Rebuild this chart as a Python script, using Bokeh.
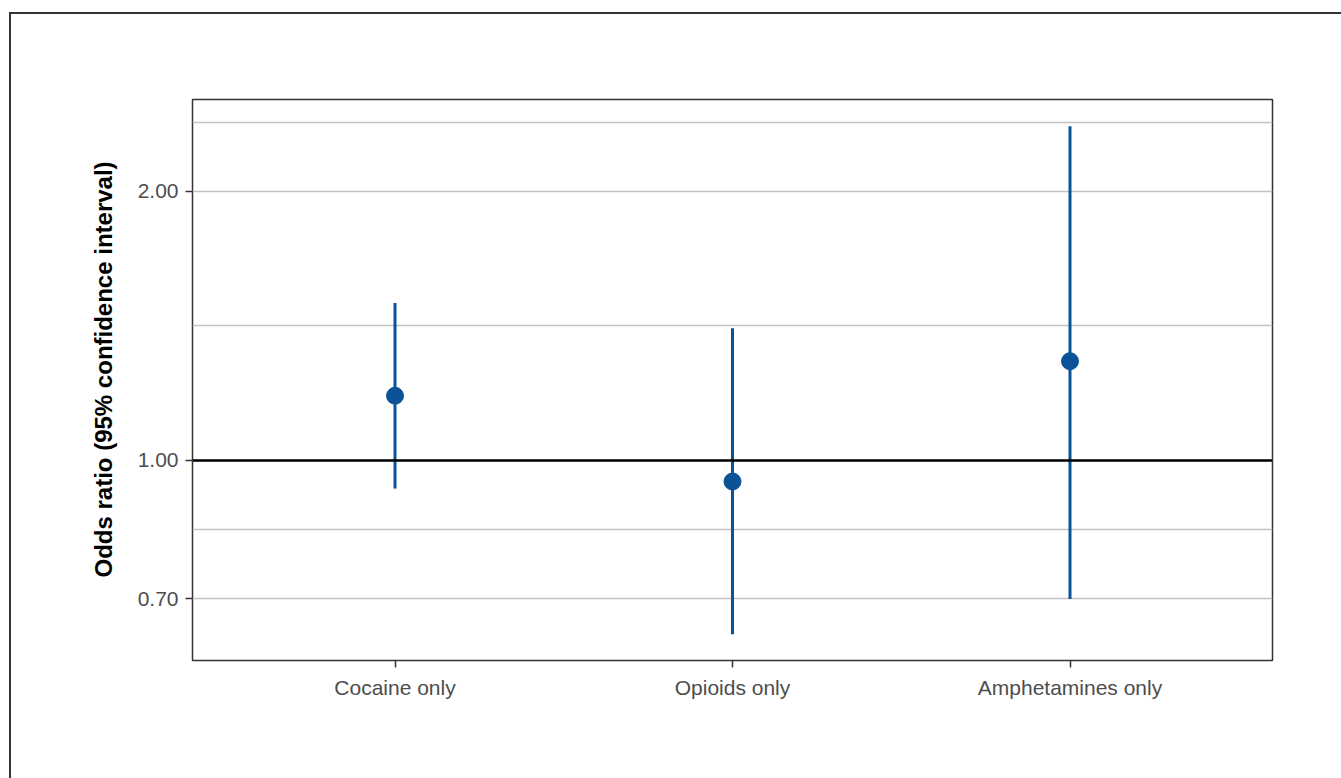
from bokeh.plotting import figure
from bokeh.models import (FactorRange, Range1d, FixedTicker, NumeralTickFormatter,
                          Span, ColumnDataSource, InlineStyleSheet, Title)
from bokeh.embed import file_html
from bokeh.resources import INLINE

# ---- data ----
categories = ["Cocaine only", "Opioids only", "Amphetamines only"]
odds_ratio = [1.181, 0.947, 1.291]
ci_lower = [0.930, 0.639, 0.700]
ci_upper = [1.500, 1.405, 2.365]
y_ticks = [0.70, 1.00, 2.00]
y_minor_grid = [0.837, 1.414, 2.390]
y_limits = (0.5973, 2.533)
y_title = "Odds ratio  (95% confidence interval)"

BLUE = "#0b5296"
FONT = "Liberation Sans"

src = ColumnDataSource(dict(cat=categories, orv=odds_ratio, lo=ci_lower, hi=ci_upper))

p = figure(
    width=1341, height=778,
    x_range=FactorRange(factors=categories, range_padding=0.1, range_padding_units="absolute"),
    y_range=Range1d(*y_limits),
    y_axis_type="log",
    output_backend="svg", toolbar_location=None,
    min_border_left=192, min_border_right=69, min_border_top=99, min_border_bottom=118,
)
p.background_fill_color = "white"
p.border_fill_color = "white"
p.outline_line_color = "#333333"
p.outline_line_width = 1.5

# grid
p.xgrid.grid_line_color = None
p.ygrid.ticker = FixedTicker(ticks=y_ticks, minor_ticks=y_minor_grid)
p.ygrid.grid_line_color = "#c2c2c2"
p.ygrid.grid_line_width = 1.5
p.ygrid.minor_grid_line_color = "#c2c2c2"
p.ygrid.minor_grid_line_width = 1.5

# axes
for ax in (p.xaxis[0], p.yaxis[0]):
    ax.axis_line_color = None
    ax.major_tick_line_color = "#333333"
    ax.major_tick_line_width = 1.5
    ax.major_tick_out = 7
    ax.major_tick_in = 0
    ax.minor_tick_line_color = None
    ax.major_label_text_font = FONT
    ax.major_label_text_font_size = "21px"
    ax.major_label_text_color = "#4d4d4d"

p.yaxis.ticker = FixedTicker(ticks=y_ticks)
p.yaxis.formatter = NumeralTickFormatter(format="0.00")
p.yaxis.major_label_standoff = 7
p.xaxis.major_label_standoff = 8

# y-axis title (as a side title so it can be nudged like the original)
p.add_layout(Title(text=y_title, align="left", offset=83, standoff=35,
                   text_font=FONT, text_font_style="bold", text_font_size="24px",
                   text_color="black"), "left")

# reference line at OR = 1
p.add_layout(Span(location=1.0, dimension="width", line_color="black", line_width=2.5))

# error bars and points
p.segment(x0="cat", y0="lo", x1="cat", y1="hi", source=src, line_color=BLUE, line_width=3)
p.scatter(x="cat", y="orv", source=src, size=17, fill_color=BLUE, line_color=BLUE)

# outer border of the panel (left and top edges; the rest runs off the page)
p.stylesheets = [InlineStyleSheet(css="""
:host { position: relative; }
:host::after {
  content: "";
  position: absolute;
  left: 9px; top: 12px; right: 0; bottom: 0;
  border-left: 2px solid #333333;
  border-top: 2px solid #333333;
  pointer-events: none;
  z-index: 10;
}
""")]

open("out.html", "w").write(file_html(p, INLINE))
